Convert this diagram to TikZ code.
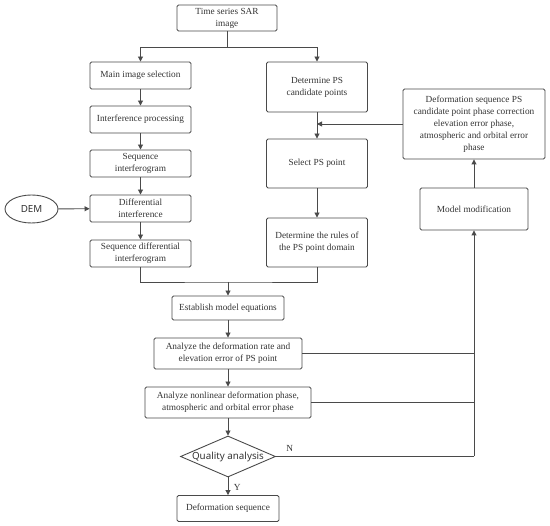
\documentclass[tikz,border=0pt]{standalone}
\usepackage{fontspec}
\setmainfont{Liberation Serif}
\newfontfamily\sansf{Noto Sans}
\usetikzlibrary{shapes.geometric,arrows.meta}
\definecolor{ln}{HTML}{4A4A4A}
\definecolor{tx}{HTML}{333333}
\tikzset{
  bx/.style={draw=ln,line width=0.9pt,rounded corners=1.5pt,align=center,inner sep=1pt,
    font=\fontsize{9.3}{12}\selectfont,text=tx},
  ar/.style={draw=ln,line width=0.9pt,-{Triangle[width=5pt,length=5pt]}},
  pl/.style={draw=ln,line width=0.9pt},
}
\begin{document}
\begin{tikzpicture}[x=1pt,y=-1pt]
\useasboundingbox (0,0) rectangle (550,526);
\node[bx,minimum width=100pt,minimum height=26pt] (sar) at (227,18) {Time series SAR\\image};
\node[bx,minimum width=101pt,minimum height=27pt] (main) at (140.5,75.5) {Main image selection};
\node[bx,minimum width=101pt,minimum height=27pt] (interf) at (140.5,119.5) {Interference processing};
\node[bx,minimum width=101pt,minimum height=27pt] (seqint) at (140.5,163.5) {Sequence\\interferogram};
\node[bx,minimum width=101pt,minimum height=27pt] (diff) at (140.5,208.5) {Differential\\interference};
\node[bx,minimum width=101pt,minimum height=27pt] (seqdiff) at (140.5,253.5) {Sequence differential\\interferogram};
\node[draw=ln,line width=0.9pt,ellipse,minimum width=53pt,minimum height=28pt,inner sep=0pt,font=\sansf\fontsize{9.8}{11}\selectfont,text=tx] (dem) at (31.5,209) {DEM};
\node[bx,minimum width=101pt,minimum height=50pt] (cand) at (317,87) {Determine PS\\candidate points};
\node[bx,minimum width=101pt,minimum height=49pt] (sel) at (317,163.5) {Select PS point};
\node[bx,minimum width=101pt,minimum height=49pt] (rules) at (317,242.5) {Determine the rules of\\the PS point domain};
\node[bx,minimum width=142pt,minimum height=70pt] (defs) at (474,124) {Deformation sequence PS\\candidate point phase correction\\elevation error phase,\\atmospheric and orbital error\\phase};
\node[bx,minimum width=108pt,minimum height=42pt] (mod) at (474,209) {Model modification};
\node[bx,minimum width=112pt,minimum height=24pt] (est) at (228,308) {Establish model equations};
\node[bx,minimum width=148pt,minimum height=31pt] (rate) at (228,353.5) {Analyze the deformation rate and\\elevation error of PS point};
\node[bx,minimum width=166pt,minimum height=31pt] (nonl) at (228,402.5) {Analyze nonlinear deformation phase,\\atmospheric and orbital error phase};
\node[draw=ln,line width=0.9pt,diamond,aspect=2.3,minimum width=95pt,minimum height=41pt,inner sep=0pt,font=\sansf\fontsize{9.8}{11}\selectfont,text=tx] (qual) at (228,456.5) {Quality analysis};
\node[bx,minimum width=102pt,minimum height=26pt] (out) at (228,508.5) {Deformation sequence};
\coordinate (split) at (227,47);
\coordinate (merge) at (228,282);
\coordinate (rail) at (474,456.5);
% split
\draw[pl] (sar.south) -- (split);
\draw[ar] (split) -| (main.north);
\draw[ar] (split) -| (cand.north);
% left column
\draw[ar] (main) -- (interf);
\draw[ar] (interf) -- (seqint);
\draw[ar] (seqint) -- (diff);
\draw[ar] (diff) -- (seqdiff);
\draw[ar] (dem) -- (diff);
% right column
\draw[ar] (cand) -- (sel);
\draw[ar] (defs.west) -- (defs.west -| cand.south);
\draw[ar] (sel) -- (rules);
% merge
\draw[pl] (seqdiff.south) |- (merge) -| (rules.south);
\draw[ar] (merge) -- (est.north);
\draw[ar] (est) -- (rate);
\draw[ar] (rate) -- (nonl);
\draw[ar] (nonl) -- (qual);
\draw[ar] (qual) -- node[right,font=\fontsize{9.3}{11}\selectfont,text=tx,xshift=2pt,yshift=-1pt]{Y} (out);
% feedback
\draw[pl] (qual.east) -- node[pos=0.07,above,font=\fontsize{9.3}{11}\selectfont,text=tx,yshift=1pt]{N} (rail);
\draw[ar] (rail) -- (mod.south);
\draw[pl] (rate.east) -- (rate.east -| rail);
\draw[pl] (nonl.east) -- (nonl.east -| rail);
\draw[ar] (mod) -- (defs);
\end{tikzpicture}
\end{document}
